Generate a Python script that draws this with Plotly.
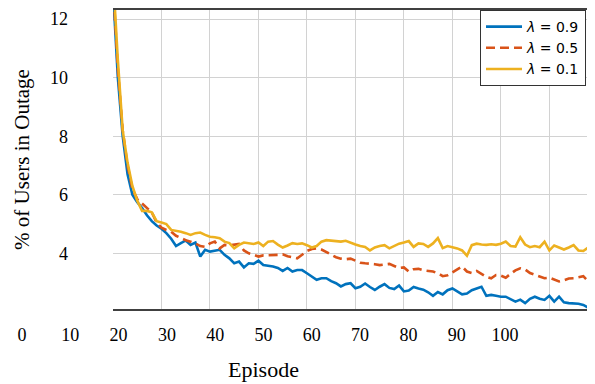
import plotly.graph_objects as go

episodes = list(range(1, 101))

blue_09 = [13.0, 10.0, 8.0, 6.7, 6.0, 5.75, 5.55, 5.3, 5.1, 4.95,
           4.84, 4.69, 4.5, 4.25, 4.35, 4.44, 4.29, 4.37, 3.89, 4.12,
           4.06, 4.08, 4.12, 3.95, 3.83, 3.66, 3.72, 3.52, 3.66, 3.64,
           3.75, 3.60, 3.58, 3.55, 3.5, 3.4, 3.5, 3.38, 3.43, 3.43,
           3.32, 3.2, 3.1, 3.15, 3.15, 3.05, 2.98, 2.87, 2.95, 2.98,
           2.81, 2.86, 2.97, 2.85, 2.75, 2.86, 2.95, 2.82, 2.78, 2.9,
           2.7, 2.73, 2.85, 2.8, 2.76, 2.67, 2.55, 2.68, 2.6, 2.74,
           2.8, 2.7, 2.6, 2.63, 2.74, 2.8, 2.86, 2.55, 2.58, 2.55,
           2.52, 2.52, 2.43, 2.35, 2.42, 2.3, 2.45, 2.52, 2.45, 2.41,
           2.55, 2.35, 2.52, 2.33, 2.3, 2.3, 2.28, 2.24, 2.15, 2.1]

orange_05 = [13.2, 10.3, 8.2, 7.0, 6.2, 5.85, 5.7, 5.55, 5.4, 5.05,
             4.88, 4.8, 4.74, 4.6, 4.52, 4.45, 4.40, 4.34, 4.25, 4.22,
             4.34, 4.40, 4.17, 4.29, 4.27, 4.30, 4.32, 4.1, 4.0, 3.95,
             3.89, 3.93, 3.93, 3.93, 3.95, 3.97, 3.9, 3.87, 3.83, 3.95,
             4.08, 4.15, 4.17, 4.13, 4.05, 3.95, 3.87, 3.82, 3.8, 3.82,
             3.75, 3.68, 3.66, 3.65, 3.63, 3.6, 3.63, 3.64, 3.57, 3.5,
             3.52, 3.38, 3.46, 3.47, 3.42, 3.39, 3.38, 3.32, 3.22, 3.25,
             3.36, 3.47, 3.55, 3.38, 3.33, 3.4, 3.3, 3.2, 3.15, 3.26,
             3.24, 3.17, 3.3, 3.42, 3.49, 3.45, 3.33, 3.27, 3.2, 3.15,
             3.17, 3.1, 3.04, 3.08, 3.14, 3.15, 3.18, 3.22, 3.05, 2.95]

yellow_01 = [13.5, 10.6, 8.2, 7.1, 6.3, 5.8, 5.45, 5.45, 5.4, 5.1,
             5.05, 5.0, 4.80, 4.78, 4.74, 4.69, 4.63, 4.69, 4.71, 4.63,
             4.57, 4.55, 4.52, 4.40, 4.35, 4.17, 4.29, 4.37, 4.34, 4.32,
             4.37, 4.25, 4.40, 4.42, 4.3, 4.2, 4.27, 4.35, 4.32, 4.34,
             4.28, 4.2, 4.25, 4.4, 4.45, 4.43, 4.4, 4.4, 4.43, 4.36,
             4.3, 4.25, 4.22, 4.1, 4.2, 4.25, 4.28, 4.17, 4.25, 4.33,
             4.37, 4.42, 4.22, 4.34, 4.32, 4.22, 4.34, 4.52, 4.18, 4.25,
             4.21, 4.17, 4.1, 3.92, 4.28, 4.33, 4.3, 4.29, 4.31, 4.29,
             4.33, 4.4, 4.25, 4.23, 4.55, 4.3, 4.21, 4.25, 4.21, 4.4,
             4.1, 4.27, 4.2, 4.13, 4.2, 4.28, 4.1, 4.08, 4.2, 4.15]

series_names = ["<i>λ</i> = 0.9", "<i>λ</i> = 0.5", "<i>λ</i> = 0.1"]
x_tick_labels = [0, 10, 20, 30, 40, 50, 60, 70, 80, 90, 100]
y_ticks = [4, 6, 8, 10, 12]

# page has an 8px body margin, so the figure is sized to fit the window
OFF = 8
W, H = 595 - OFF, 384 - OFF
PL, PR, PT, PB = 113 - OFF, 593 - OFF, 10 - OFF, 309 - OFF
ML, MR, MT, MB = 0, W - PR, PT, H - PB
PW = W - ML - MR

serif = "Liberation Serif, Tinos, DejaVu Serif, serif"

fig = go.Figure()
fig.add_trace(go.Scatter(x=episodes, y=blue_09, mode="lines", name=series_names[0],
                         line=dict(color="#0072BD", width=2.6)))
fig.add_trace(go.Scatter(x=episodes, y=orange_05, mode="lines", name=series_names[1],
                         line=dict(color="#D95319", width=2.6, dash="9px,5px")))
fig.add_trace(go.Scatter(x=episodes, y=yellow_01, mode="lines", name=series_names[2],
                         line=dict(color="#EDB120", width=2.6)))
# empty trace so the label axis (x2) is rendered
fig.add_trace(go.Scatter(x=[None], y=[None], xaxis="x2", yaxis="y2",
                         mode="lines", showlegend=False, hoverinfo="skip"))

fig.update_layout(
    width=W, height=H,
    margin=dict(l=ML, r=MR, t=MT, b=MB, autoexpand=False),
    paper_bgcolor="white", plot_bgcolor="rgba(0,0,0,0)",
    font=dict(family=serif, color="black"),
    xaxis=dict(domain=[PL / PW, 1], range=[1, 100],
               tickvals=[11, 21, 31, 41, 51, 61, 71, 81, 91],
               showticklabels=False, ticks="",
               showgrid=True, gridcolor="#d2d2d2", gridwidth=1.2,
               zeroline=False, showline=True, mirror=True,
               linecolor="#404040", linewidth=1.5, automargin=False),
    xaxis2=dict(domain=[(22 - OFF) / PW, (505 - OFF) / PW], range=[0, 100],
                tickvals=x_tick_labels, ticktext=[str(v) for v in x_tick_labels],
                anchor="free", position=0,
                showgrid=False, zeroline=False, showline=False, ticks="",
                tickfont=dict(family=serif, size=18, color="black"),
                ticklabelstandoff=13, automargin=False,
                title=dict(text="Episode", font=dict(family=serif, size=22, color="black"),
                           standoff=17)),
    yaxis2=dict(anchor="x2", range=[0, 1], visible=False, showgrid=False),
    yaxis=dict(range=[2.1, 12.31], tickvals=y_ticks,
               showgrid=True, gridcolor="#d2d2d2", gridwidth=1.2,
               zeroline=False, showline=False, ticks="",
               tickfont=dict(family=serif, size=18, color="black"),
               ticklabelstandoff=44, automargin=False,
               title=dict(text="% of Users in Outage",
                          font=dict(family=serif, size=21, color="black"),
                          standoff=14)),
    legend=dict(x=(586 - OFF) / PW, y=1, xanchor="right", yanchor="top",
                bgcolor="white", bordercolor="#333333", borderwidth=1,
                font=dict(family="DejaVu Sans", size=14, color="black"),
                tracegroupgap=0, itemwidth=36),
    showlegend=True,
)

fig.add_shape(type="line", xref="x domain", yref="y domain",
              x0=1, x1=1, y0=0, y1=1,
              line=dict(color="#404040", width=1.5))

fig.write_html("out.html")
